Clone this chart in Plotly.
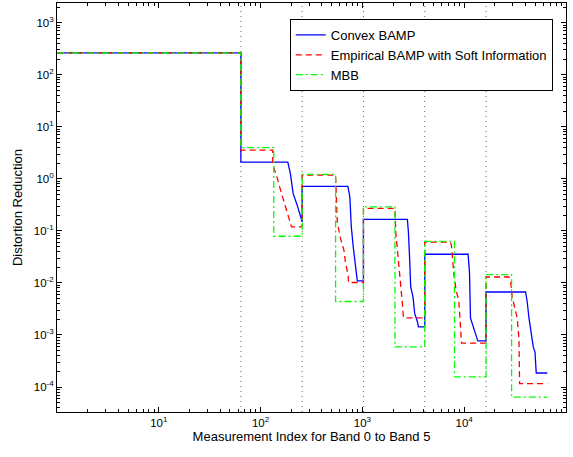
import plotly.graph_objects as go

# ---- data ----
convex_x = [1, 64, 64, 185, 196, 209, 229, 250, 256, 256, 720, 753, 778, 813, 857, 891, 891, 1024,
            1024, 2767, 2830, 2916, 2981, 3140, 3264, 3470, 3550, 4096,
            4096, 10920, 11270, 11530, 12150, 12620, 13090, 13610, 16384,
            16384, 40100, 41600, 43300, 45600, 47700, 49600, 51000, 65536]
convex_y = [265, 265, 2.09, 2.09, 1.27, 0.52, 0.31, 0.16, 0.15, 0.72, 0.72, 0.45, 0.12, 0.049, 0.0236, 0.0113, 0.011, 0.011,
            0.166, 0.166, 0.096, 0.027, 0.0084, 0.0054, 0.0026, 0.0018, 0.00143, 0.00143,
            0.0356, 0.0356, 0.0163, 0.0021, 0.00154, 0.00114, 0.00092, 0.00077, 0.00077,
            0.0067, 0.0067, 0.0043, 0.0021, 0.00106, 0.00059, 0.00047, 0.000186, 0.000186]

emp_x = [1, 64, 64, 131.5, 131.5, 143, 157, 171, 188, 201, 256,
         256, 545, 566, 610, 658, 684, 726, 730, 1024,
         1024, 2089, 2125, 2208, 2287, 2377, 2471, 2527, 2540, 4096,
         4096, 7330, 7500, 7910, 8330, 8850, 9200, 9410, 16384,
         16384, 27500, 28600, 29600, 33200, 34500, 35000, 65536]
emp_y = [265, 265, 3.56, 3.56, 1.9, 1.18, 0.61, 0.35, 0.186, 0.12, 0.12,
         1.18, 1.18, 0.149, 0.071, 0.043, 0.0236, 0.014, 0.0102, 0.0102,
         0.27, 0.27, 0.096, 0.043, 0.025, 0.0122, 0.004, 0.0022, 0.00214, 0.00214,
         0.061, 0.061, 0.052, 0.0152, 0.0072, 0.0046, 0.00123, 0.0007, 0.0007,
         0.013, 0.013, 0.0104, 0.0054, 0.0021, 0.00085, 0.000116, 0.000116]

mbb_x = [1, 64, 64, 134.6, 134.6, 256, 256, 545, 545, 1024, 1024, 2089, 2089, 4096,
         4096, 8030, 8030, 16384, 16384, 29200, 29200, 65536]
mbb_y = [265, 265, 4.0, 4.0, 0.079, 0.079, 1.22, 1.22, 0.0044, 0.0044, 0.29, 0.29, 0.00059, 0.00059,
         0.063, 0.063, 0.000156, 0.000156, 0.0145, 0.0145, 6.4e-5, 6.4e-5]

band_edges = [64, 256, 1024, 4096, 16384]

x_tickvals = [10, 100, 1000, 10000, 100000]
x_ticktext = ["10<sup>1</sup>", "10<sup>2</sup>", "10<sup>3</sup>", "10<sup>4</sup>", "10<sup>5</sup>"]
y_tickvals = [1e-4, 1e-3, 1e-2, 1e-1, 1, 10, 100, 1000]
y_ticktext = ["10<sup>-4</sup>", "10<sup>-3</sup>", "10<sup>-2</sup>", "10<sup>-1</sup>",
              "10<sup>0</sup>", "10<sup>1</sup>", "10<sup>2</sup>", "10<sup>3</sup>"]

FONT = "Liberation Sans, Arial, Helvetica, sans-serif"

fig = go.Figure()
fig.add_trace(go.Scatter(x=convex_x, y=convex_y, mode="lines", name="Convex BAMP",
                         line=dict(color="#0000ff", width=1.3)))
fig.add_trace(go.Scatter(x=emp_x, y=emp_y, mode="lines", name="Empirical BAMP with Soft Information",
                         line=dict(color="#ff0000", width=1.3, dash="6px,4px")))
fig.add_trace(go.Scatter(x=mbb_x, y=mbb_y, mode="lines", name="MBB",
                         line=dict(color="#00ff00", width=1.3, dash="7px,3px,2px,3px")))

for e in band_edges:
    fig.add_shape(type="line", xref="x", yref="paper", x0=e, x1=e, y0=0, y1=1,
                  line=dict(color="#666666", width=1, dash="1px,4px"), layer="below")

minor_x = [m * 10 ** k for k in range(0, 5) for m in range(2, 10)]
minor_y = [m * 10 ** k for k in range(-5, 4) for m in range(2, 10)]

fig.update_xaxes(type="log", range=[0, 5], tickmode="array", tickvals=x_tickvals, ticktext=x_ticktext,
                 ticks="inside", ticklen=5, tickcolor="black", showline=True, linecolor="black",
                 linewidth=1, mirror="allticks", showgrid=False, zeroline=False, automargin=False,
                 tickfont=dict(family=FONT, size=11.5, color="black"),
                 minor=dict(ticks="inside", ticklen=3, tickcolor="black", tickmode="array",
                            tickvals=minor_x, showgrid=False),
                 title=dict(text="Measurement Index for Band 0 to Band 5", standoff=3,
                            font=dict(family=FONT, size=13, color="black")))
fig.update_yaxes(type="log", range=[-4.48, 3.38], tickmode="array", tickvals=y_tickvals, ticktext=y_ticktext,
                 ticks="inside", ticklen=5, tickcolor="black", showline=True, linecolor="black",
                 linewidth=1, mirror="allticks", showgrid=False, zeroline=False, automargin=False,
                 tickfont=dict(family=FONT, size=11.5, color="black"),
                 minor=dict(ticks="inside", ticklen=3, tickcolor="black", tickmode="array",
                            tickvals=minor_y, showgrid=False),
                 title=dict(text="Distortion Reduction", standoff=8,
                            font=dict(family=FONT, size=13, color="black")))

fig.update_layout(
    width=573, height=457,
    margin=dict(l=57, r=7, t=3, b=45),
    plot_bgcolor="white", paper_bgcolor="white",
    font=dict(family=FONT, size=12, color="black"),
    legend=dict(x=0.974, y=0.961, xanchor="right", yanchor="top",
                bgcolor="white", bordercolor="black", borderwidth=1,
                font=dict(family=FONT, size=13, color="black"),
                tracegroupgap=0),
    showlegend=True,
)

fig.write_html("out.html")
